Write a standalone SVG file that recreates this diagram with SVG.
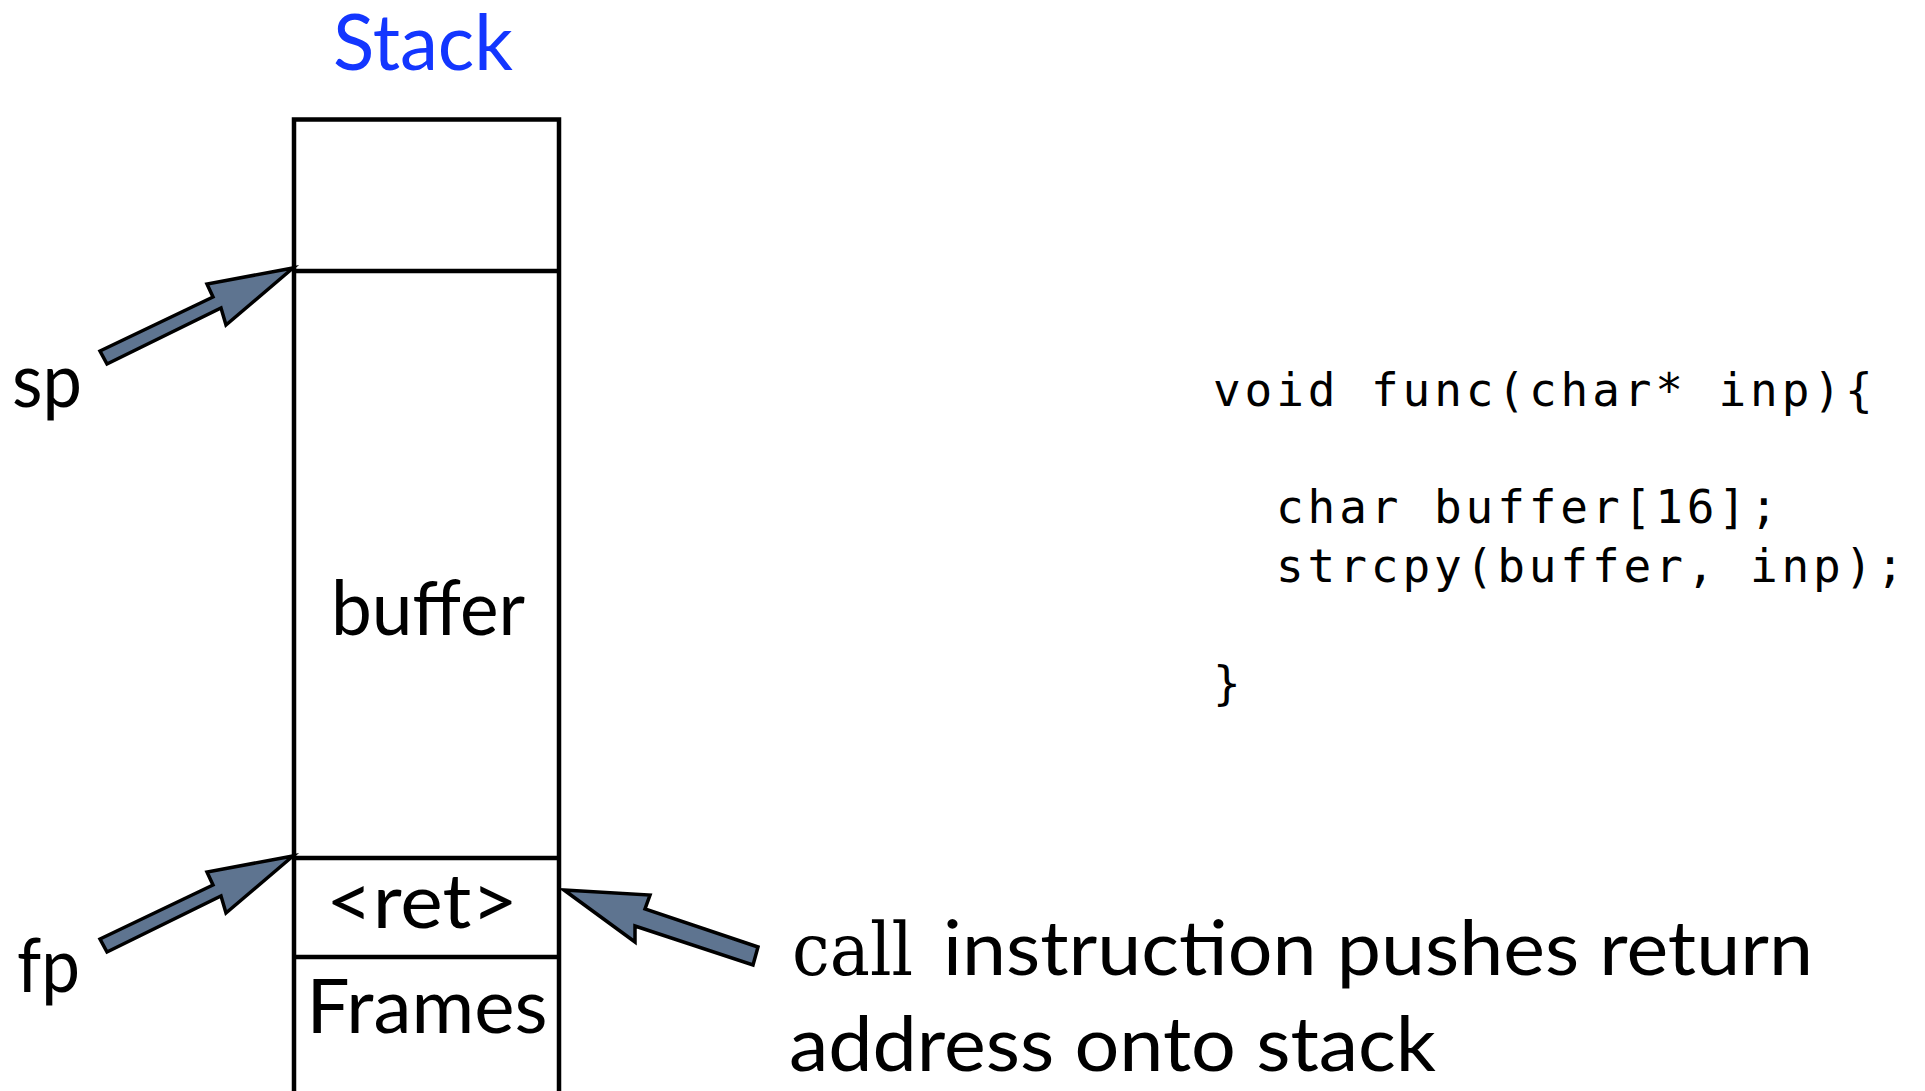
<svg xmlns="http://www.w3.org/2000/svg" width="1925" height="1091" viewBox="0 0 1925 1091">
<defs>
<style>
.lbl{font-family:Lato,"Noto Sans","Liberation Sans",sans-serif;font-size:76px;fill:#000}
.title{font-family:Lato,"Noto Sans","Liberation Sans",sans-serif;font-size:78px;fill:#1336ff}
.code{font-family:"DejaVu Sans Mono","Liberation Mono",monospace;font-size:46px;letter-spacing:3.9px;fill:#000}
.tt{font-family:"DejaVu Serif Condensed","DejaVu Serif","Liberation Serif",serif;font-size:72px;fill:#000}
.cell{fill:#fff;stroke:#000;stroke-width:4.5}
.div{stroke:#000;stroke-width:4.5;fill:none}
.arrow{fill:#5e7490;stroke:#000;stroke-width:3.5;stroke-linejoin:miter}
</style>
<polygon id="ptr" points="100,351 213,297 207,284 293,268 226,325 221,308 107,364"/>
</defs>
<rect width="1925" height="1091" fill="#fff"/>

<g id="stack-title">
<text class="title" x="423" y="70" text-anchor="middle" textLength="180" lengthAdjust="spacingAndGlyphs">Stack</text>
</g>

<g id="stack">
<rect class="cell" x="294" y="119.5" width="265" height="1010"/>
<line class="div" x1="294" y1="271" x2="559" y2="271"/>
<line class="div" x1="294" y1="858" x2="559" y2="858"/>
<line class="div" x1="294" y1="957" x2="559" y2="957"/>
</g>

<g id="cell-buffer">
<text class="lbl" x="428" y="635" text-anchor="middle" textLength="194" lengthAdjust="spacingAndGlyphs">buffer</text>
</g>
<g id="cell-ret">
<text class="lbl" x="422" y="928" text-anchor="middle" textLength="192" lengthAdjust="spacingAndGlyphs">&lt;ret&gt;</text>
</g>
<g id="cell-frames">
<text class="lbl" x="427" y="1033" text-anchor="middle" textLength="241" lengthAdjust="spacingAndGlyphs">Frames</text>
</g>

<g id="label-sp">
<text class="lbl" x="12" y="407" textLength="70" lengthAdjust="spacingAndGlyphs">sp</text>
</g>
<g id="label-fp">
<text class="lbl" x="17" y="992" textLength="63" lengthAdjust="spacingAndGlyphs">fp</text>
</g>

<g id="code">
<text class="code" x="1213" y="406">void func(char* inp){</text>
<text class="code" x="1276" y="523">char buffer[16];</text>
<text class="code" x="1276" y="582">strcpy(buffer, inp);</text>
<text class="code" x="1213" y="699">}</text>
</g>

<g id="annotation">
<text class="tt" x="792" y="975" textLength="121" lengthAdjust="spacingAndGlyphs">call</text>
<text class="lbl" x="943" y="975" textLength="870" lengthAdjust="spacingAndGlyphs">instruction pushes return</text>
<text class="lbl" x="789" y="1071" textLength="647" lengthAdjust="spacingAndGlyphs">address onto stack</text>
</g>

<g id="connectors">
<use href="#ptr" class="arrow"/>
<use href="#ptr" class="arrow" transform="translate(0,588)"/>
<polygon class="arrow" points="564,890 650,895 645,909 758,947 753,965 635,926 635,942"/>
</g>
</svg>
